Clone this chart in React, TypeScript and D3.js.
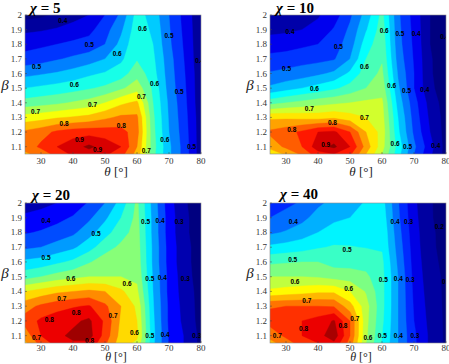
import React from 'react';
import * as d3 from 'd3';

// ---------- data ----------
const THETA = [25, 30, 35, 40, 45, 50, 55, 60, 65, 70, 75, 80];
const BETA = [2.0, 1.9, 1.8, 1.7, 1.6, 1.5, 1.4, 1.3, 1.2, 1.1, 1.05];
const CHI = ['5', '10', '20', '40'];
const LEVELS = [0.2, 0.25, 0.3, 0.35, 0.4, 0.45, 0.5, 0.55, 0.6, 0.65, 0.7, 0.75, 0.8, 0.85, 0.9, 0.95, 1.0];
const X_TICKS = [30, 40, 50, 60, 70, 80];
const Y_TICKS = [1.1, 1.2, 1.3, 1.4, 1.5, 1.6, 1.7, 1.8, 1.9, 2.0];
const Y_TICK_LABELS = ['1.1', '1.2', '1.3', '1.4', '1.5', '1.6', '1.7', '1.8', '1.9', '2'];

const Z_CHI5 = [
  [0.28, 0.29, 0.31, 0.33, 0.35, 0.40, 0.46, 0.57, 0.53, 0.45, 0.38, 0.31],
  [0.34, 0.345, 0.355, 0.37, 0.385, 0.43, 0.49, 0.58, 0.54, 0.455, 0.385, 0.31],
  [0.38, 0.39, 0.40, 0.41, 0.42, 0.45, 0.515, 0.59, 0.55, 0.46, 0.39, 0.31],
  [0.42, 0.43, 0.445, 0.46, 0.475, 0.50, 0.54, 0.595, 0.56, 0.47, 0.395, 0.31],
  [0.485, 0.495, 0.505, 0.52, 0.54, 0.555, 0.575, 0.63, 0.57, 0.475, 0.40, 0.315],
  [0.55, 0.56, 0.57, 0.58, 0.595, 0.61, 0.64, 0.68, 0.59, 0.48, 0.405, 0.315],
  [0.62, 0.63, 0.64, 0.655, 0.67, 0.70, 0.74, 0.76, 0.60, 0.49, 0.41, 0.315],
  [0.72, 0.73, 0.745, 0.755, 0.765, 0.79, 0.81, 0.81, 0.61, 0.495, 0.415, 0.32],
  [0.81, 0.83, 0.86, 0.875, 0.88, 0.875, 0.87, 0.82, 0.615, 0.50, 0.42, 0.32],
  [0.82, 0.86, 0.90, 0.93, 0.96, 0.93, 0.90, 0.80, 0.62, 0.51, 0.425, 0.32],
  [0.79, 0.82, 0.87, 0.91, 0.93, 0.91, 0.87, 0.78, 0.615, 0.51, 0.425, 0.32],
];

const Z_CHI10 = [
  [0.30, 0.31, 0.325, 0.345, 0.375, 0.44, 0.52, 0.615, 0.46, 0.38, 0.30, 0.27],
  [0.335, 0.34, 0.35, 0.365, 0.405, 0.46, 0.545, 0.625, 0.465, 0.385, 0.30, 0.27],
  [0.375, 0.38, 0.39, 0.40, 0.425, 0.475, 0.575, 0.635, 0.47, 0.39, 0.30, 0.27],
  [0.415, 0.42, 0.43, 0.435, 0.445, 0.50, 0.60, 0.645, 0.48, 0.395, 0.305, 0.27],
  [0.455, 0.465, 0.475, 0.49, 0.51, 0.56, 0.625, 0.66, 0.495, 0.40, 0.305, 0.275],
  [0.51, 0.53, 0.55, 0.57, 0.59, 0.62, 0.65, 0.68, 0.51, 0.40, 0.31, 0.275],
  [0.63, 0.65, 0.665, 0.68, 0.69, 0.70, 0.71, 0.71, 0.53, 0.42, 0.33, 0.275],
  [0.79, 0.79, 0.785, 0.78, 0.79, 0.77, 0.75, 0.72, 0.55, 0.43, 0.34, 0.28],
  [0.86, 0.88, 0.91, 0.95, 0.96, 0.90, 0.80, 0.73, 0.56, 0.44, 0.35, 0.28],
  [0.82, 0.86, 0.90, 0.98, 1.01, 0.95, 0.83, 0.72, 0.58, 0.46, 0.37, 0.28],
  [0.76, 0.81, 0.86, 0.93, 0.95, 0.91, 0.80, 0.70, 0.57, 0.45, 0.36, 0.28],
];

const Z_CHI20 = [
  [0.275, 0.285, 0.30, 0.32, 0.355, 0.40, 0.47, 0.56, 0.43, 0.32, 0.255, 0.22],
  [0.31, 0.32, 0.335, 0.355, 0.39, 0.44, 0.50, 0.565, 0.435, 0.325, 0.26, 0.22],
  [0.345, 0.355, 0.37, 0.39, 0.43, 0.48, 0.53, 0.57, 0.435, 0.325, 0.26, 0.22],
  [0.39, 0.40, 0.42, 0.44, 0.48, 0.53, 0.56, 0.575, 0.44, 0.33, 0.265, 0.225],
  [0.46, 0.47, 0.49, 0.51, 0.545, 0.575, 0.58, 0.58, 0.44, 0.33, 0.265, 0.225],
  [0.53, 0.55, 0.57, 0.585, 0.60, 0.60, 0.60, 0.59, 0.445, 0.335, 0.27, 0.225],
  [0.65, 0.67, 0.69, 0.70, 0.71, 0.70, 0.66, 0.61, 0.45, 0.335, 0.275, 0.23],
  [0.73, 0.76, 0.78, 0.795, 0.805, 0.76, 0.70, 0.64, 0.455, 0.34, 0.28, 0.23],
  [0.77, 0.81, 0.83, 0.84, 0.86, 0.79, 0.69, 0.65, 0.46, 0.34, 0.285, 0.23],
  [0.72, 0.80, 0.84, 0.86, 0.87, 0.78, 0.68, 0.66, 0.465, 0.345, 0.295, 0.235],
  [0.69, 0.77, 0.82, 0.845, 0.84, 0.76, 0.67, 0.64, 0.46, 0.345, 0.295, 0.235],
];

const Z_CHI40 = [
  [0.32, 0.34, 0.355, 0.39, 0.415, 0.43, 0.455, 0.47, 0.355, 0.26, 0.205, 0.175],
  [0.35, 0.365, 0.385, 0.42, 0.44, 0.45, 0.465, 0.48, 0.36, 0.265, 0.205, 0.178],
  [0.39, 0.405, 0.425, 0.45, 0.47, 0.48, 0.49, 0.49, 0.37, 0.27, 0.21, 0.18],
  [0.46, 0.47, 0.48, 0.495, 0.505, 0.502, 0.498, 0.495, 0.38, 0.275, 0.21, 0.183],
  [0.54, 0.545, 0.55, 0.55, 0.53, 0.53, 0.53, 0.51, 0.39, 0.28, 0.215, 0.186],
  [0.60, 0.60, 0.60, 0.595, 0.58, 0.575, 0.56, 0.515, 0.40, 0.285, 0.22, 0.19],
  [0.66, 0.67, 0.68, 0.69, 0.69, 0.65, 0.595, 0.515, 0.40, 0.29, 0.225, 0.19],
  [0.795, 0.80, 0.80, 0.80, 0.795, 0.72, 0.62, 0.515, 0.40, 0.295, 0.23, 0.19],
  [0.82, 0.83, 0.85, 0.87, 0.905, 0.80, 0.615, 0.51, 0.40, 0.30, 0.235, 0.19],
  [0.77, 0.81, 0.85, 0.88, 0.93, 0.80, 0.61, 0.50, 0.40, 0.31, 0.24, 0.19],
  [0.73, 0.78, 0.82, 0.85, 0.89, 0.78, 0.60, 0.495, 0.40, 0.31, 0.24, 0.19],
];

// contour labels: [theta, beta, text]
const LABELS_CHI5: [number, number, string][] = [
  [36.8, 1.961, '0.4'], [45.1, 1.795, '0.5'], [61.7, 1.909, '0.6'], [70.0, 1.859, '0.5'],
  [53.8, 1.738, '0.6'], [28.6, 1.647, '0.5'], [79.6, 1.69, '0.4'], [40.4, 1.522, '0.6'],
  [65.5, 1.533, '0.6'], [73.2, 1.476, '0.5'], [28.3, 1.339, '0.7'], [46.1, 1.39, '0.7'],
  [61.4, 1.442, '0.7'], [37.2, 1.26, '0.8'], [55.1, 1.248, '0.8'], [42.0, 1.15, '0.9'],
  [47.7, 1.082, '0.9'], [62.9, 1.077, '0.7'], [68.7, 1.15, '0.6'], [77.1, 1.10, '0.5'],
];
const LABELS_CHI10: [number, number, string][] = [
  [31.25, 1.886, '0.4'], [46.4, 1.784, '0.5'], [30.2, 1.636, '0.5'], [60.7, 1.897, '0.6'],
  [65.6, 1.875, '0.5'], [70.7, 1.875, '0.4'], [79.6, 1.856, '0.4'], [54.5, 1.647, '0.6'],
  [38.9, 1.497, '0.6'], [63.0, 1.515, '0.6'], [67.7, 1.487, '0.5'], [73.4, 1.492, '0.4'],
  [37.3, 1.358, '0.7'], [54.5, 1.298, '0.7'], [44.5, 1.267, '0.8'], [31.8, 1.219, '0.8'],
  [42.4, 1.112, '0.9'], [64.1, 1.123, '0.6'], [68.0, 1.10, '0.5'], [76.8, 1.107, '0.4'],
];
const LABELS_CHI20: [number, number, string][] = [
  [31.6, 1.882, '0.4'], [47.2, 1.796, '0.5'], [62.7, 1.875, '0.5'], [67.2, 1.884, '0.4'],
  [73.2, 1.875, '0.3'], [31.6, 1.63, '0.5'], [39.3, 1.49, '0.6'], [56.9, 1.451, '0.6'],
  [64.0, 1.485, '0.5'], [67.9, 1.497, '0.4'], [75.1, 1.485, '0.3'], [36.5, 1.349, '0.7'],
  [52.5, 1.236, '0.7'], [41.0, 1.256, '0.8'], [32.6, 1.211, '0.8'], [59.2, 1.122, '0.6'],
  [64.0, 1.10, '0.5'], [68.8, 1.109, '0.4'], [78.7, 1.104, '0.3'], [28.6, 1.086, '0.7'],
  [45.2, 1.066, '0.8'],
];
const LABELS_CHI40: [number, number, string][] = [
  [32.3, 1.874, '0.4'], [64.1, 1.876, '0.4'], [68.3, 1.874, '0.3'], [77.9, 1.842, '0.2'],
  [49.1, 1.682, '0.5'], [32.1, 1.617, '0.5'], [32.8, 1.464, '0.6'], [49.6, 1.423, '0.6'],
  [60.4, 1.48, '0.5'], [65.1, 1.491, '0.4'], [68.8, 1.482, '0.3'], [80.2, 1.464, '0.2'],
  [36.5, 1.34, '0.7'], [51.5, 1.216, '0.7'], [35.5, 1.149, '0.8'], [47.8, 1.171, '0.8'],
  [27.3, 1.104, '0.7'], [55.6, 1.09, '0.6'], [60.1, 1.099, '0.5'], [65.1, 1.104, '0.4'],
  [70.3, 1.099, '0.3'],
];

const GRIDS = [Z_CHI5, Z_CHI10, Z_CHI20, Z_CHI40];
const LABEL_SETS = [LABELS_CHI5, LABELS_CHI10, LABELS_CHI20, LABELS_CHI40];

// ---------- layout ----------
const W = 449;
const H = 364;
const BOXES = [
  { x0: 25, x1: 201, y0: 15, y1: 154, tx: 30, ty: 13, ly: 176, tk: 9.5, lf: 13 },
  { x0: 270, x1: 446, y0: 15, y1: 154, tx: 276, ty: 13, ly: 176, tk: 9.5, lf: 13 },
  { x0: 25, x1: 201, y0: 203, y1: 343, tx: 32, ty: 200, ly: 361, tk: 8, lf: 12 },
  { x0: 270, x1: 446, y0: 203, y1: 343, tx: 280, ty: 199, ly: 361, tk: 8, lf: 12 },
];
const SERIF = '"Liberation Serif", "Times New Roman", serif';
const SANS = '"Liberation Sans", Arial, sans-serif';

function jet(t: number): string {
  const c = (v: number) => Math.max(0, Math.min(1, v));
  const tt = c(t);
  const r = c(1.5 - Math.abs(4 * tt - 3));
  const g = c(1.5 - Math.abs(4 * tt - 2));
  const b = c(1.5 - Math.abs(4 * tt - 1));
  return d3.rgb(r * 255, g * 255, b * 255).formatHex();
}

function Panel({ idx }: { idx: number }) {
  const box = BOXES[idx];
  const grid = GRIDS[idx];
  const labels = LABEL_SETS[idx];
  const nx = THETA.length;
  const ny = BETA.length;
  const values = grid.flat();
  const [zmin, zmax] = d3.extent(values) as [number, number];

  const xScale = d3.scaleLinear().domain([25, 80]).range([box.x0, box.x1]);
  const yScale = d3.scaleLinear().domain([1.05, 2.0]).range([box.y1, box.y0]);
  const ix = d3.scaleLinear().domain(THETA.map((_, i) => i)).range(THETA);
  const iy = d3.scaleLinear().domain(BETA.map((_, i) => i)).range(BETA);
  const clamp = (v: number, lo: number, hi: number) => Math.max(lo, Math.min(hi, v));

  const thresholds = [zmin, ...LEVELS.filter((l) => l > zmin && l <= zmax)];
  const contours = d3.contours().size([nx, ny]).thresholds(thresholds)(values);

  const toPath = (mp: d3.ContourMultiPolygon) => {
    let s = '';
    for (const poly of mp.coordinates) {
      for (const ring of poly) {
        ring.forEach(([cx, cy], k) => {
          const th = ix(clamp(cx - 0.5, 0, nx - 1));
          const be = iy(clamp(cy - 0.5, 0, ny - 1));
          s += (k === 0 ? 'M' : 'L') + xScale(th).toFixed(2) + ',' + yScale(be).toFixed(2);
        });
        s += 'Z';
      }
    }
    return s;
  };

  const clipId = `clip-${idx}`;
  const midX = (box.x0 + box.x1) / 2;
  const midY = (box.y0 + box.y1) / 2;

  return (
    <g>
      <defs>
        <clipPath id={clipId}>
          <rect x={box.x0} y={box.y0} width={box.x1 - box.x0} height={box.y1 - box.y0} />
        </clipPath>
      </defs>
      <g clipPath={`url(#${clipId})`}>
        {contours.map((c, i) => {
          const col = jet((c.value - zmin) / (zmax - zmin));
          return <path key={i} d={toPath(c)} fill={col} stroke={col} strokeWidth={0.4} fillRule="evenodd" />;
        })}
        {labels.map(([th, be, txt], i) => (
          <text key={i} x={xScale(th)} y={yScale(be)} textAnchor="middle" dominantBaseline="central"
            fontFamily={SANS} fontWeight="bold" fontSize={6.5} fill="#000">{txt}</text>
        ))}
      </g>
      <rect x={box.x0} y={box.y0} width={box.x1 - box.x0} height={box.y1 - box.y0}
        fill="none" stroke="#8a8a8a" strokeWidth={0.6} />
      {X_TICKS.map((t) => (
        <g key={t}>
          <line x1={xScale(t)} x2={xScale(t)} y1={box.y1} y2={box.y1 - 2} stroke="#444" strokeWidth={0.5} />
          <text x={xScale(t)} y={box.y1 + box.tk} textAnchor="middle" fontFamily={SERIF} fontSize={9} fill="#333">{t}</text>
        </g>
      ))}
      {Y_TICKS.map((t, i) => (
        <g key={t}>
          <line x1={box.x0} x2={box.x0 + 2} y1={yScale(t)} y2={yScale(t)} stroke="#444" strokeWidth={0.5} />
          <text x={box.x0 - 3} y={yScale(t) + 3} textAnchor="end" fontFamily={SERIF} fontSize={9} fill="#333">{Y_TICK_LABELS[i]}</text>
        </g>
      ))}
      <text x={box.tx} y={box.ty} fontFamily={SERIF} fontWeight="bold" fontSize={15} fill="#000">
        <tspan fontStyle="italic">χ</tspan> = {CHI[idx]}
      </text>
      <text x={midX + 3} y={box.ly} textAnchor="middle" fontFamily={SERIF} fontSize={box.lf} fill="#222">
        <tspan fontStyle="italic">θ</tspan> [°]
      </text>
      <text x={box.x0 - 20} y={midY + 5} textAnchor="middle" fontFamily={SERIF} fontStyle="italic" fontSize={15} fill="#222">β</text>
    </g>
  );
}

export default function App() {
  return (
    <svg width={W} height={H} style={{ position: 'absolute', left: 0, top: 0, background: '#fff' }}>
      <rect x={0} y={0} width={W} height={H} fill="#fff" />
      {[0, 1, 2, 3].map((i) => <Panel key={i} idx={i} />)}
    </svg>
  );
}
